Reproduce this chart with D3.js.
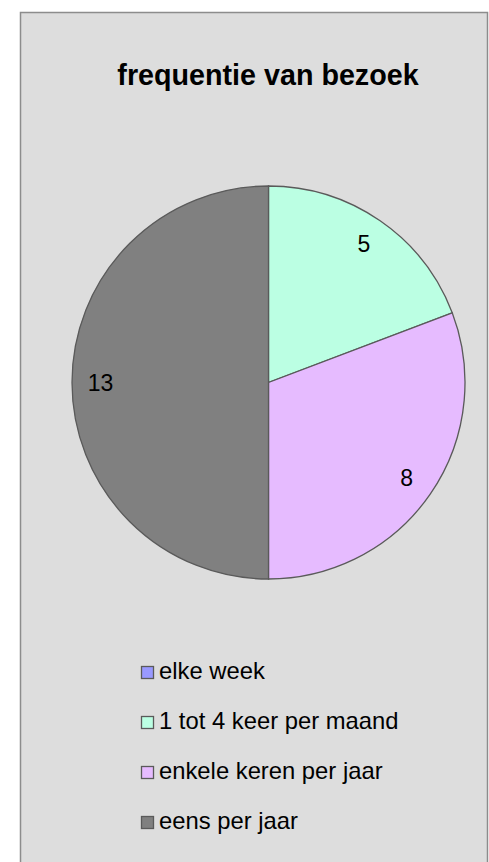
<!DOCTYPE html>
<html>
<head>
<meta charset="utf-8">
<script src="https://cdn.jsdelivr.net/npm/d3@7"></script>
<style>
  body { margin: 0; background: #ffffff; }
  text { font-family: "Liberation Sans", Arial, sans-serif; fill: #000; }
</style>
</head>
<body>
<div class="chart"></div>
<script>
// chart data
var categories = ["elke week", "1 tot 4 keer per maand", "enkele keren per jaar", "eens per jaar"];
var counts = [0, 5, 8, 13];
var colors = ["#9999ff", "#bbffe3", "#e6bbff", "#808080"];
var title = "frequentie van bezoek";

var svgWidth = 489;
var svgHeight = 862;

var svg = d3.select(".chart")
  .append("svg")
  .attr("width", svgWidth)
  .attr("height", svgHeight);

// grey chart area
svg.append("rect")
  .attr("x", 20.5)
  .attr("y", 12.5)
  .attr("width", 467)
  .attr("height", 870)
  .attr("fill", "#dddddd")
  .attr("stroke", "#8c8c8c")
  .attr("stroke-width", 1.5);

// title
svg.append("text")
  .attr("x", 268)
  .attr("y", 85)
  .attr("text-anchor", "middle")
  .attr("font-size", "28.7px")
  .attr("font-weight", "bold")
  .text(title);

var data = categories.map((c, i) => ({ name: c, value: counts[i], color: colors[i] }));

var radius = 196.5;
var pieGroup = svg.append("g")
  .attr("transform", "translate(268.5, 382.5)");

var pie = d3.pie().sort(null).value(d => d.value);
var arc = d3.arc().innerRadius(0).outerRadius(radius);
var labelArc = d3.arc().innerRadius(168).outerRadius(168);

var slices = pie(data).filter(d => d.data.value > 0);

pieGroup.selectAll("path")
  .data(slices)
  .enter()
  .append("path")
  .attr("d", arc)
  .attr("fill", d => d.data.color)
  .attr("stroke", "#5a5a5a")
  .attr("stroke-width", 1.3);

// value labels
pieGroup.selectAll(".val")
  .data(slices)
  .enter()
  .append("text")
  .attr("class", "val")
  .attr("transform", d => `translate(${labelArc.centroid(d)})`)
  .attr("dy", "0.35em")
  .attr("text-anchor", "middle")
  .attr("font-size", "23px")
  .text(d => d.data.value);

// legend
var legendY = d3.scalePoint()
  .domain(categories)
  .range([679, 829]);

var legend = svg.selectAll(".legend")
  .data(data)
  .enter()
  .append("g")
  .attr("class", "legend")
  .attr("transform", d => `translate(141, ${legendY(d.name)})`);

legend.append("rect")
  .attr("x", 0.5)
  .attr("y", -12.5)
  .attr("width", 12)
  .attr("height", 12)
  .attr("fill", d => d.color)
  .attr("stroke", "#5a5a5a")
  .attr("stroke-width", 1.3);

legend.append("text")
  .attr("x", 18)
  .attr("y", 0)
  .attr("font-size", "23.8px")
  .text(d => d.name);
</script>
</body>
</html>
